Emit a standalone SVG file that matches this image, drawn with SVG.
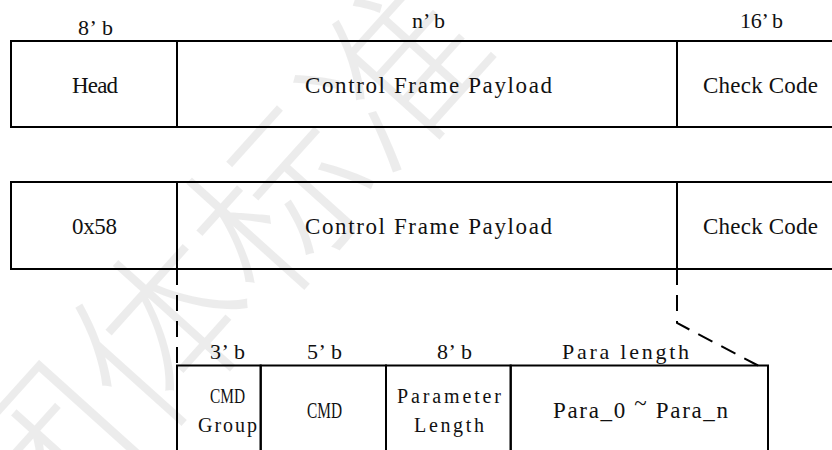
<svg xmlns="http://www.w3.org/2000/svg" width="832" height="450" viewBox="0 0 832 450">
  <style>
    .cell { fill: none; stroke: #000; stroke-width: 2; }
    .lbl { font-family: "Liberation Serif", "Noto Sans CJK SC", serif; fill: #111; text-anchor: middle; }
    .main { font-size: 23px; }
    .bits { font-size: 22px; }
    .small { font-size: 20px; }
    .dash { fill: none; stroke: #000; stroke-width: 2; stroke-dasharray: 16 10; }
    .wm { font-family: "Noto Sans CJK SC", sans-serif; font-weight: 300; font-size: 175px; fill: #000; fill-opacity: 0.075; }
  </style>

  <rect width="832" height="450" fill="#fff"/>

  <!-- faint background mark -->
  <g id="watermark">
    <text class="wm" transform="translate(35,570) rotate(-48)">团体标准</text>
  </g>

  <!-- field widths above frame 1 -->
  <g id="bits-top">
    <text class="lbl bits" x="95.5" y="35" textLength="35">8’ b</text>
    <text class="lbl bits" x="428.5" y="28" textLength="33">n’ b</text>
    <text class="lbl bits" x="761.5" y="28" textLength="43">16’ b</text>
  </g>

  <!-- frame 1 -->
  <g id="f1-head">
    <rect class="cell" x="11" y="41" width="166" height="86"/>
    <text class="lbl main" x="95" y="93" textLength="46">Head</text>
  </g>
  <g id="f1-payload">
    <rect class="cell" x="177" y="41" width="500" height="86"/>
    <text class="lbl main" x="428.5" y="93" textLength="247">Control Frame Payload</text>
  </g>
  <g id="f1-check">
    <rect class="cell" x="677" y="41" width="170" height="86"/>
    <text class="lbl main" x="760.5" y="93" textLength="115">Check Code</text>
  </g>

  <!-- frame 2 -->
  <g id="f2-head">
    <rect class="cell" x="11" y="182" width="166" height="87"/>
    <text class="lbl main" x="94.5" y="234" textLength="45">0x58</text>
  </g>
  <g id="f2-payload">
    <rect class="cell" x="177" y="182" width="500" height="87"/>
    <text class="lbl main" x="428.5" y="234" textLength="247">Control Frame Payload</text>
  </g>
  <g id="f2-check">
    <rect class="cell" x="677" y="182" width="170" height="87"/>
    <text class="lbl main" x="760.5" y="234" textLength="115">Check Code</text>
  </g>

  <!-- expansion lines from the payload field -->
  <g id="connectors">
    <path class="dash" d="M177 269 V365.5"/>
    <path class="dash" d="M677 269 V323 L758 365.5"/>
  </g>

  <!-- field widths above the payload breakdown -->
  <g id="bits-payload">
    <text class="lbl bits" x="227.5" y="359" textLength="35">3’ b</text>
    <text class="lbl bits" x="324.5" y="359" textLength="35">5’ b</text>
    <text class="lbl bits" x="454.5" y="359" textLength="35">8’ b</text>
    <text class="lbl bits" x="625.5" y="359" textLength="127">Para length</text>
  </g>

  <!-- payload breakdown -->
  <g id="p-group">
    <rect class="cell" x="177" y="365.5" width="83.7" height="100"/>
    <text class="lbl small" x="227.5" y="403" textLength="35" lengthAdjust="spacingAndGlyphs">CMD</text>
    <text class="lbl small" x="227.5" y="432" textLength="59">Group</text>
  </g>
  <g id="p-cmd">
    <rect class="cell" x="260.7" y="365.5" width="125.3" height="100"/>
    <text class="lbl main" x="324.5" y="418" textLength="35" lengthAdjust="spacingAndGlyphs">CMD</text>
  </g>
  <g id="p-len">
    <rect class="cell" x="386" y="365.5" width="124.7" height="100"/>
    <text class="lbl small" x="449" y="403" textLength="104">Parameter</text>
    <text class="lbl small" x="449" y="432" textLength="70">Length</text>
  </g>
  <g id="p-para">
    <rect class="cell" x="510.7" y="365.5" width="257.3" height="100"/>
    <text class="lbl main" x="640.5" y="418" textLength="175">Para_0 <tspan dy="-7">~</tspan><tspan dy="7"> Para_n</tspan></text>
  </g>
</svg>
